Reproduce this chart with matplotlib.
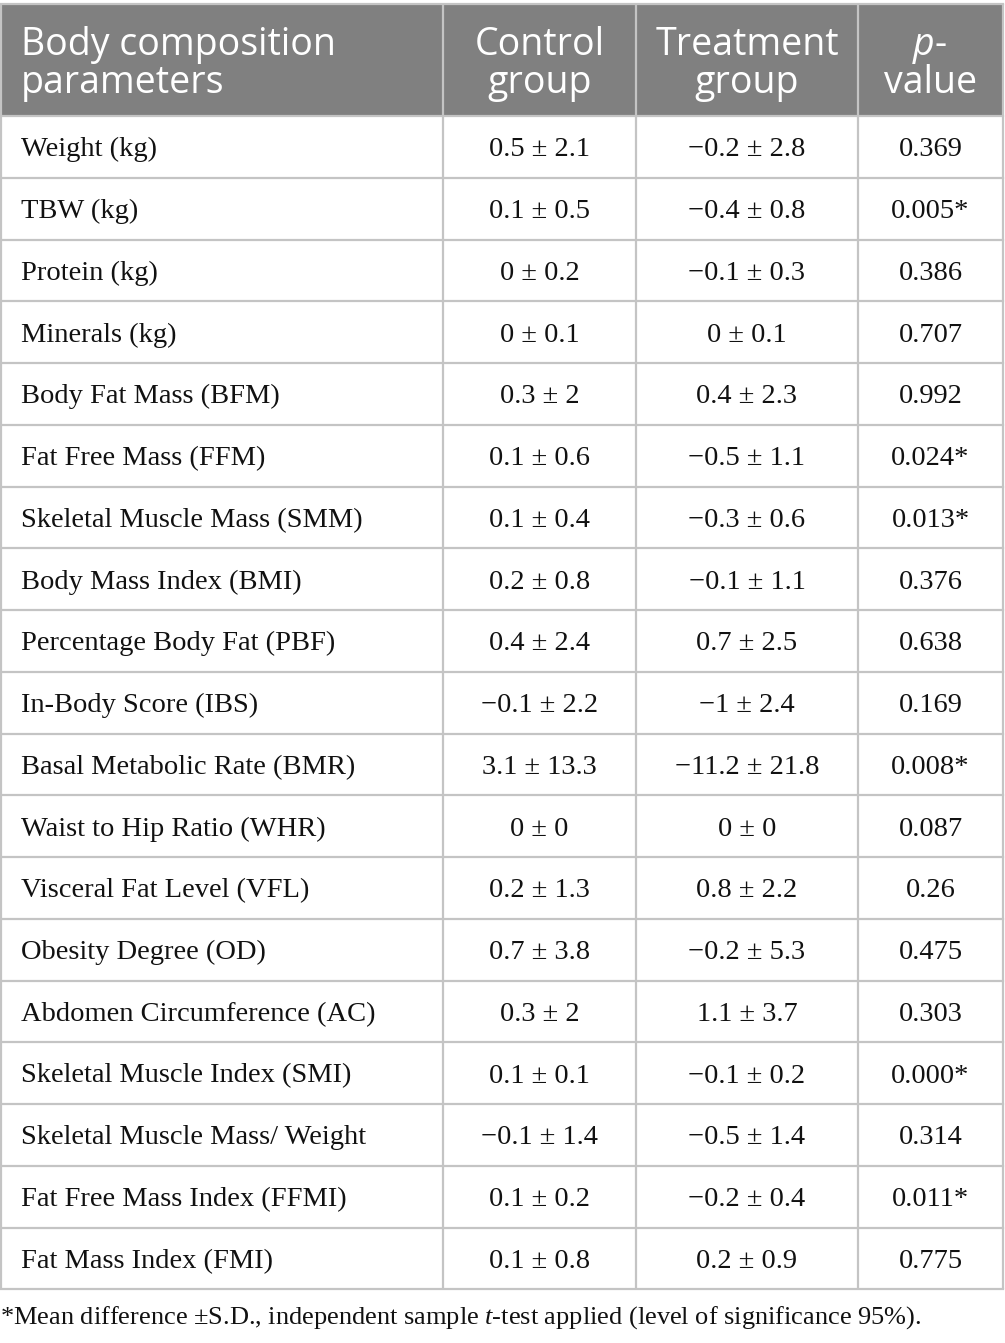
import matplotlib
matplotlib.use("Agg")
import matplotlib.pyplot as plt
from matplotlib.patches import Rectangle

plt.rcParams["mathtext.fontset"] = "custom"
plt.rcParams["mathtext.rm"] = "Liberation Serif"
plt.rcParams["mathtext.it"] = "Liberation Serif:italic"

headers = ["Body composition\nparameters", "Control\ngroup", "Treatment\ngroup", "p-\nvalue"]
parameters = ["Weight (kg)", "TBW (kg)", "Protein (kg)", "Minerals (kg)", "Body Fat Mass (BFM)",
              "Fat Free Mass (FFM)", "Skeletal Muscle Mass (SMM)", "Body Mass Index (BMI)",
              "Percentage Body Fat (PBF)", "In-Body Score (IBS)", "Basal Metabolic Rate (BMR)",
              "Waist to Hip Ratio (WHR)", "Visceral Fat Level (VFL)", "Obesity Degree (OD)",
              "Abdomen Circumference (AC)", "Skeletal Muscle Index (SMI)", "Skeletal Muscle Mass/ Weight",
              "Fat Free Mass Index (FFMI)", "Fat Mass Index (FMI)"]
control = ["0.5 ± 2.1", "0.1 ± 0.5", "0 ± 0.2", "0 ± 0.1", "0.3 ± 2", "0.1 ± 0.6", "0.1 ± 0.4",
           "0.2 ± 0.8", "0.4 ± 2.4", "\u22120.1 ± 2.2", "3.1 ± 13.3", "0 ± 0", "0.2 ± 1.3",
           "0.7 ± 3.8", "0.3 ± 2", "0.1 ± 0.1", "\u22120.1 ± 1.4", "0.1 ± 0.2", "0.1 ± 0.8"]
treatment = ["\u22120.2 ± 2.8", "\u22120.4 ± 0.8", "\u22120.1 ± 0.3", "0 ± 0.1", "0.4 ± 2.3",
             "\u22120.5 ± 1.1", "\u22120.3 ± 0.6", "\u22120.1 ± 1.1", "0.7 ± 2.5", "\u22121 ± 2.4",
             "\u221211.2 ± 21.8", "0 ± 0", "0.8 ± 2.2", "\u22120.2 ± 5.3", "1.1 ± 3.7",
             "\u22120.1 ± 0.2", "\u22120.5 ± 1.4", "\u22120.2 ± 0.4", "0.2 ± 0.9"]
pvalues = ["0.369", "0.005*", "0.386", "0.707", "0.992", "0.024*", "0.013*", "0.376", "0.638",
           "0.169", "0.008*", "0.087", "0.26", "0.475", "0.303", "0.000*", "0.314", "0.011*", "0.775"]
footnote = "*Mean difference ±S.D., independent sample $\\mathit{t}$-test applied (level of significance 95%)."

W, H = 1005, 1343
fig = plt.figure(figsize=(W / 100, H / 100), dpi=100)
ax = fig.add_axes([0, 0, 1, 1])
ax.set_xlim(0, W)
ax.set_ylim(H, 0)
ax.axis("off")

col_edges = [1, 443, 636, 858, 1003]
top, head_bot = 4, 116
row_h = 61.75
n = len(parameters)
bottom = head_bot + n * row_h
border = "#c4c4c4"
hdr_bg = "#808080"

ax.add_patch(Rectangle((col_edges[0], top), col_edges[-1] - col_edges[0], head_bot - top,
                       facecolor=hdr_bg, edgecolor="none"))

for x in col_edges:
    ax.plot([x, x], [top, bottom], color=border, lw=1.6, solid_capstyle="butt")
ax.plot([col_edges[0], col_edges[-1]], [top, top], color=border, lw=1.6)
for i in range(n + 1):
    y = head_bot + i * row_h
    ax.plot([col_edges[0], col_edges[-1]], [y, y], color=border, lw=1.6)

hfont = dict(family="Open Sans", color="white", fontsize=27)
line1_y, line2_y = 55, 93  # baselines
for j in range(4):
    l1, l2 = headers[j].split("\n")
    if j == 0:
        ax.text(21, line1_y, l1, ha="left", va="baseline", **hfont)
        ax.text(21, line2_y, l2, ha="left", va="baseline", **hfont)
        continue
    cx = (col_edges[j] + col_edges[j + 1]) / 2
    if j == 3:
        ax.text(cx + 4, line1_y, l1[0], ha="right", va="baseline", style="italic", **hfont)
        ax.text(cx + 4, line1_y, l1[1:], ha="left", va="baseline", **hfont)
    else:
        ax.text(cx, line1_y, l1, ha="center", va="baseline", **hfont)
    ax.text(cx, line2_y, l2, ha="center", va="baseline", **hfont)

bfont = dict(family="Liberation Serif", color="#111111", fontsize=20.5)
for i in range(n):
    cy = head_bot + (i + 0.5) * row_h + 9.5
    ax.text(21, cy, parameters[i], ha="left", va="baseline", **bfont)
    for j, col in enumerate([control, treatment, pvalues], start=1):
        cx = (col_edges[j] + col_edges[j + 1]) / 2
        ax.text(cx, cy, col[i], ha="center", va="baseline", **bfont)

ax.text(0, 1324, footnote, ha="left", va="baseline", family="Liberation Serif", color="#111111", fontsize=19)

fig.savefig("out.png", dpi=100, facecolor="white")
